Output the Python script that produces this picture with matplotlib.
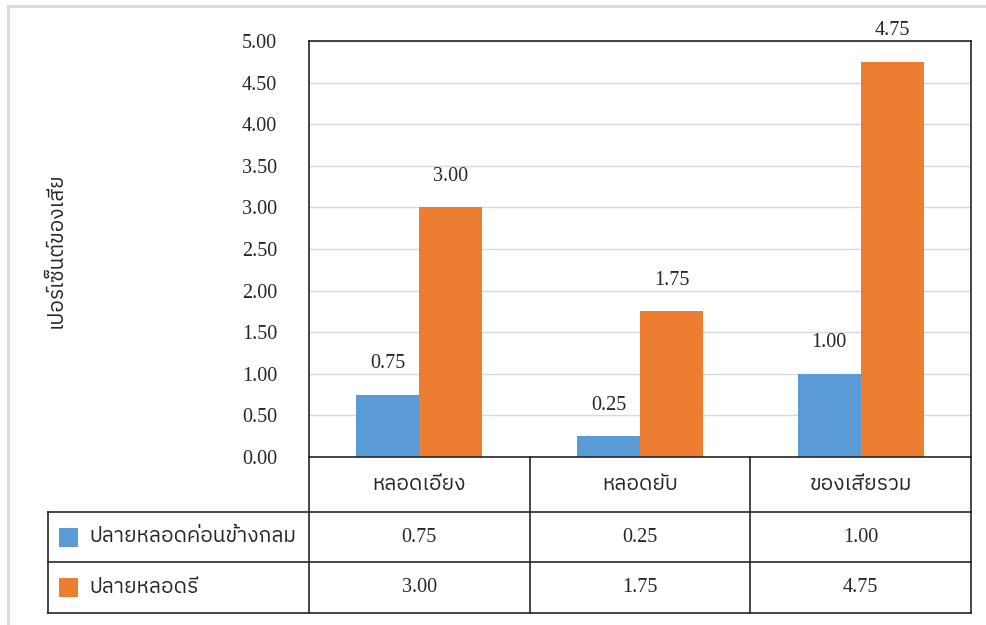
import matplotlib
matplotlib.use("Agg")
import matplotlib.pyplot as plt
from matplotlib import font_manager
from matplotlib.patches import Rectangle
from matplotlib.lines import Line2D
import matplotlib.transforms as mtransforms

# ---- data ----
categories = ["หลอดเอียง", "หลอดยับ", "ของเสียรวม"]
series_names = ["ปลายหลอดค่อนข้างกลม", "ปลายหลอดรี"]
round_tip = [0.75, 0.25, 1.00]
oval_tip = [3.00, 1.75, 4.75]
y_ticks = [0.0, 0.5, 1.0, 1.5, 2.0, 2.5, 3.0, 3.5, 4.0, 4.5, 5.0]
y_label = "เปอร์เซ็นต์ของเสีย"

colors = ["#5B9BD5", "#ED7D31"]
series_values = [round_tip, oval_tip]


def find_thai_font():
    """Return the family name of an installed font with Thai glyphs."""
    try:
        from fontTools.ttLib import TTFont
    except Exception:
        return None
    found = []
    for entry in font_manager.fontManager.ttflist:
        try:
            tt = TTFont(entry.fname, fontNumber=0, lazy=True)
            cmap = tt.getBestCmap() or {}
            if 0x0E01 in cmap and 0x0E40 in cmap:
                found.append(entry.name)
        except Exception:
            continue
    for name in found:
        if "Thai" in name and "Looped" not in name:
            return name
    return found[0] if found else None


thai_font = find_thai_font()
num_family = ["Liberation Serif", "DejaVu Serif"]
thai_family = ([thai_font] if thai_font else []) + ["DejaVu Sans"]
text_color = "#262626"
num_size = 14.5
thai_size = 15

W, H = 986, 625
fig = plt.figure(figsize=(W / 100, H / 100), dpi=100)


def fx(px):
    return px / W


def fy(py):
    return 1 - py / H


# plot area
left_px, right_px, top_px, bottom_px = 309, 971, 41, 457
ax = fig.add_axes([fx(left_px), fy(bottom_px), fx(right_px - left_px), fy(top_px) - fy(bottom_px)])

n = len(categories)
xs = list(range(n))
bar_w = 0.2855
offsets = [-bar_w / 2, bar_w / 2]
for vals, off, col in zip(series_values, offsets, colors):
    bars = ax.bar([x + off for x in xs], vals, width=bar_w, color=col, zorder=2)
    for b, v in zip(bars, vals):
        ax.annotate(f"{v:.2f}", (b.get_x() + b.get_width() / 2, v),
                    xytext=(0, 31), textcoords="offset pixels",
                    ha="center", va="center", fontsize=num_size,
                    family=num_family, color=text_color, zorder=3,
                    annotation_clip=False)

ax.set_xlim(-0.5, n - 0.5)
ax.set_ylim(0, 5)
ax.set_yticks(y_ticks)
ax.set_yticklabels([f"{t:.2f}" for t in y_ticks], family=num_family,
                   fontsize=num_size, color=text_color)
ax.tick_params(axis="y", length=0, pad=23)
ax.set_xticks([])
ax.yaxis.grid(True, color="#D9D9D9", linewidth=1.0, zorder=0)
ax.set_axisbelow(True)
for s in ax.spines.values():
    s.set_color(text_color)
    s.set_linewidth(1.2)

# y-axis title
fig.text(fx(56), fy(250), y_label, rotation=90, ha="center", va="center",
         fontsize=thai_size, family=thai_family, color=text_color)

# ---- data table below the plot ----
line_kw = dict(color=text_color, linewidth=1.2)
table_left_px = 48
row_edges_px = [457, 512, 562, 613]
blend = mtransforms.blended_transform_factory(ax.transData, fig.transFigure)

# horizontal rules
for ry in row_edges_px[1:]:
    fig.add_artist(Line2D([fx(table_left_px), fx(right_px)], [fy(ry), fy(ry)], **line_kw))
# vertical rules between and around the category columns
for k in range(n + 1):
    xb = k - 0.5
    fig.add_artist(Line2D([xb, xb], [fy(row_edges_px[0]), fy(row_edges_px[-1])],
                          transform=blend, **line_kw))
# left edge of legend column
fig.add_artist(Line2D([fx(table_left_px), fx(table_left_px)],
                      [fy(row_edges_px[1]), fy(row_edges_px[-1])], **line_kw))

# header row: category names
hdr_y = fy((row_edges_px[0] + row_edges_px[1]) / 2)
for x, c in zip(xs, categories):
    fig.text(x, hdr_y, c, transform=blend, ha="center", va="center",
             fontsize=thai_size, family=thai_family, color=text_color)

# value rows with legend keys
key = 19
for r, (name, vals, col) in enumerate(zip(series_names, series_values, colors)):
    cy = fy((row_edges_px[r + 1] + row_edges_px[r + 2]) / 2)
    fig.add_artist(Rectangle((fx(59), cy - (key / H) / 2), key / W, key / H,
                             facecolor=col, edgecolor="none"))
    fig.text(fx(89), cy, name, ha="left", va="center", fontsize=thai_size,
             family=thai_family, color=text_color)
    for x, v in zip(xs, vals):
        fig.text(x, cy, f"{v:.2f}", transform=blend, ha="center", va="center",
                 fontsize=num_size, family=num_family, color=text_color)

# light outer frame of the chart area
frame_kw = dict(color="#D9D9D9", linewidth=2)
fig.add_artist(Line2D([fx(8), 1], [fy(6), fy(6)], **frame_kw))
fig.add_artist(Line2D([fx(8), fx(8)], [fy(6), 0], **frame_kw))

fig.savefig("out.png", dpi=100)
